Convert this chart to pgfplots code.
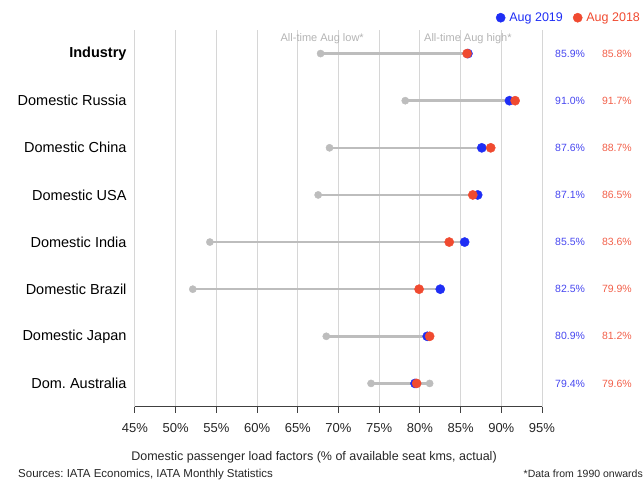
\documentclass[border=0pt]{standalone}
\usepackage{pgfplots}
\pgfplotsset{compat=1.18}
\usepackage{pgfplotstable}
\usepackage{fontspec}
\setmainfont{Liberation Sans}
\frenchspacing
\definecolor{c19}{HTML}{1F2EF5}
\definecolor{c18}{HTML}{F04A30}
\definecolor{gr}{HTML}{BDBDBD}
\definecolor{gridc}{HTML}{D6D6D6}
\definecolor{t19}{HTML}{4646F0}
\definecolor{t18}{HTML}{F2604A}
\definecolor{ann}{HTML}{B4B4B4}
\pgfplotstableread{
y low high a19 a18
8 67.8 85.9 85.9 85.8
7 78.2 91.7 91.0 91.7
6 68.9 88.7 87.6 88.7
5 67.5 87.1 87.1 86.5
4 54.2 85.5 85.5 83.6
3 52.1 82.5 82.5 79.9
2 68.5 81.2 80.9 81.2
1 74.0 81.2 79.4 79.6
}\data
\begin{document}
\begin{tikzpicture}
\path[use as bounding box] (0,0) rectangle (643pt,481pt);
\begin{axis}[
  at={(135pt,74pt)}, anchor=south west,
  scale only axis, width=407pt, height=377pt,
  xmin=45, xmax=95, ymin=0.5, ymax=8.5,
  clip=false,
  /pgf/number format/assume math mode=true,
  axis x line*=bottom, axis y line*=left,
  x axis line style={-, draw=black!75, line width=1pt},
  y axis line style={draw=none},
  xtick={45,50,...,95},
  xticklabels={45\%,50\%,55\%,60\%,65\%,70\%,75\%,80\%,85\%,90\%,95\%},
  xticklabel style={font=\fontsize{13}{15}\selectfont, text=black!85, yshift=-7pt},
  tick align=outside,
  major tick length=6pt,
  x tick style={draw=black!75, line width=1pt},
  ytick={1,...,8},
  yticklabels={Dom. Australia, Domestic Japan, Domestic Brazil, Domestic India, Domestic USA, Domestic China, Domestic Russia, \textbf{Industry}},
  y tick style={draw=none},
  yticklabel style={font=\fontsize{14.5}{16}\selectfont, text=black, xshift=1pt},
  xmajorgrids,
  grid style={gridc, line width=1pt},
  legend style={at={(1.246,1.052)}, anchor=north east, draw=none, fill=none,
    legend columns=2, font=\fontsize{12.5}{14}\selectfont,
    /tikz/every even column/.append style={column sep=8pt},
    legend cell align=left, inner sep=0pt},
  legend image code/.code={\fill[#1] (0pt,0pt) circle (4.6pt); \path (6.5pt,0pt);},
]
\addplot[gr, line width=2.5pt, forget plot] coordinates {(67.8,8) (85.9,8)};
\addplot[gr, line width=2.5pt, forget plot] coordinates {(78.2,7) (91.7,7)};
\addplot[gr, line width=2.5pt, forget plot] coordinates {(68.9,6) (88.7,6)};
\addplot[gr, line width=2.5pt, forget plot] coordinates {(67.5,5) (87.1,5)};
\addplot[gr, line width=2.5pt, forget plot] coordinates {(54.2,4) (85.5,4)};
\addplot[gr, line width=2.5pt, forget plot] coordinates {(52.1,3) (82.5,3)};
\addplot[gr, line width=2.5pt, forget plot] coordinates {(68.5,2) (81.2,2)};
\addplot[gr, line width=2.5pt, forget plot] coordinates {(74.0,1) (81.2,1)};
\addplot[only marks, mark=*, mark size=3.6pt, gr, mark options={draw=gr, fill=gr}, forget plot] table[x=low, y=y] {\data};
\addplot[only marks, mark=*, mark size=3.6pt, gr, mark options={draw=gr, fill=gr}, forget plot] table[x=high, y=y] {\data};
\addplot[only marks, mark=*, mark size=4.6pt, c19, mark options={draw=c19, fill=c19}] table[x=a19, y=y] {\data};
\addlegendentry{\textcolor{c19}{Aug 2019}}
\addplot[only marks, mark=*, mark size=4.6pt, c18, mark options={draw=c18, fill=c18}] table[x=a18, y=y] {\data};
\addlegendentry{\textcolor{c18}{Aug 2018}}
% value labels on the right
\addplot[draw=none, mark=none, forget plot, point meta=explicit,
  nodes near coords={\pgfmathprintnumber[fixed, fixed zerofill, precision=1, assume math mode=true]{\pgfplotspointmeta}\%},
  every node near coord/.append style={anchor=center, text=t19, font=\fontsize{10.5}{12}\selectfont}]
  table[x expr=98.45, y=y, meta=a19] {\data};
\addplot[draw=none, mark=none, forget plot, point meta=explicit,
  nodes near coords={\pgfmathprintnumber[fixed, fixed zerofill, precision=1, assume math mode=true]{\pgfplotspointmeta}\%},
  every node near coord/.append style={anchor=center, text=t18, font=\fontsize{10.5}{12}\selectfont}]
  table[x expr=104.2, y=y, meta=a18] {\data};
\node[text=ann, font=\fontsize{11}{13}\selectfont] at (axis cs:68.0,8.31) {All-time Aug low*};
\node[text=ann, font=\fontsize{11}{13}\selectfont] at (axis cs:85.9,8.31) {All-time Aug high*};
\end{axis}
\node[font=\fontsize{12.5}{14}\selectfont, text=black!85] at (314pt,24pt) {Domestic passenger load factors (\% of available seat kms, actual)};
\node[font=\fontsize{11.5}{13}\selectfont, text=black!85, anchor=south west, inner sep=0pt] at (18pt,0.5pt) {Sources: IATA Economics, IATA Monthly Statistics};
\node[font=\fontsize{10.5}{12}\selectfont, text=black!85, anchor=east, inner sep=0pt] at (643pt,7pt) {*Data from 1990 onwards};
\end{tikzpicture}
\end{document}
